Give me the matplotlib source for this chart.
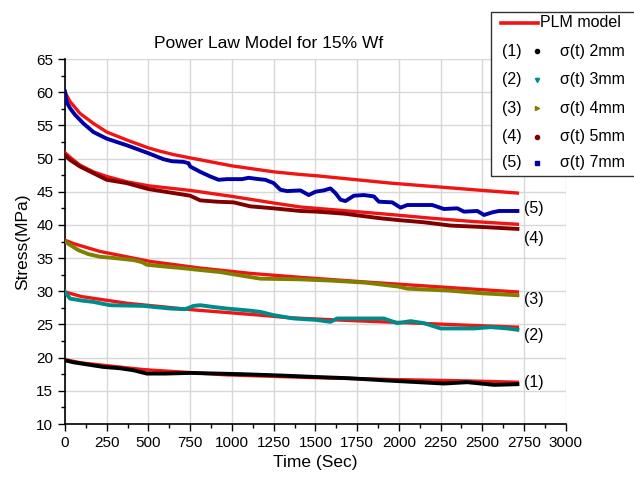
import matplotlib.pyplot as plt
from matplotlib.lines import Line2D
from matplotlib.patches import Rectangle
from matplotlib.ticker import MultipleLocator

plt.rcParams['font.family'] = ['Liberation Sans', 'DejaVu Sans']

# PLM model curves (time, stress)
plm_t = {
    5: [0, 30, 90, 170, 250, 370, 500, 570, 650, 750, 1000, 1250, 1410, 1510, 1750, 1950, 2250, 2500, 2710],
    4: [0, 30, 90, 170, 250, 370, 500, 570, 750, 1000, 1250, 1410, 1890, 2200, 2450, 2710],
    3: [0, 50, 210, 510, 810, 1110, 1410, 1800, 2100, 2400, 2710],
    2: [0, 100, 370, 770, 1170, 1350, 1700, 2100, 2400, 2710],
    1: [0, 100, 470, 970, 1470, 1970, 2400, 2710],
}
plm_s = {
    5: [60.0, 58.6, 56.8, 55.3, 54.0, 52.8, 51.6, 51.1, 50.6, 50.1, 48.9, 48.0, 47.6, 47.4, 46.8, 46.3,
        45.7, 45.2, 44.8],
    4: [50.9, 50.2, 49.0, 48.0, 47.3, 46.5, 45.9, 45.7, 45.2, 44.3, 43.3, 42.7, 41.7, 41.0, 40.5, 40.1],
    3: [37.7, 37.2, 36.0, 34.5, 33.5, 32.7, 32.1, 31.4, 30.9, 30.4, 29.9],
    2: [29.9, 29.2, 28.2, 27.2, 26.4, 26.0, 25.6, 25.2, 24.9, 24.6],
    1: [19.7, 19.2, 18.2, 17.4, 17.0, 16.7, 16.5, 16.3],
}

# measured stress relaxation
t7 = [0, 10, 30, 60, 110, 170, 250, 370, 500, 590, 640, 710, 740, 750, 810, 870, 920, 970, 1060, 1100,
      1160, 1200, 1250, 1290, 1330, 1410, 1460, 1500, 1550, 1590, 1620, 1650, 1680, 1730, 1790, 1850,
      1880, 1960, 2010, 2050, 2200, 2270, 2350, 2390, 2470, 2510, 2560, 2600, 2710]
s7 = [60.1, 58.5, 57.6, 56.6, 55.3, 54.0, 53.0, 52.0, 50.8, 49.9, 49.6, 49.5, 49.3, 48.8, 48.0, 47.3,
      46.8, 46.9, 46.9, 47.1, 46.9, 46.8, 46.3, 45.3, 45.1, 45.2, 44.5, 45.0, 45.2, 45.5, 44.8, 43.8,
      43.6, 44.4, 44.5, 44.3, 43.5, 43.4, 42.6, 43.0, 43.0, 42.4, 42.5, 42.0, 42.1, 41.5, 41.9, 42.1, 42.1]
t5 = [0, 30, 90, 170, 250, 370, 500, 650, 750, 810, 910, 1010, 1110, 1250, 1410, 1510, 1670, 1890,
      2010, 2150, 2310, 2490, 2710]
s5 = [50.5, 49.8, 48.8, 47.8, 46.8, 46.3, 45.4, 44.8, 44.4, 43.7, 43.5, 43.4, 42.8, 42.5, 42.1, 42.0,
      41.7, 41.0, 40.7, 40.4, 39.9, 39.7, 39.4]
t4 = [0, 30, 80, 140, 210, 300, 410, 460, 490, 610, 700, 810, 930, 1000, 1170, 1410, 1600, 1800, 2000,
      2050, 2300, 2500, 2710]
s4 = [37.5, 37.0, 36.2, 35.6, 35.2, 35.0, 34.7, 34.4, 34.0, 33.7, 33.5, 33.2, 32.9, 32.6, 31.9, 31.8,
      31.6, 31.3, 30.7, 30.4, 30.1, 29.7, 29.4]
t3 = [0, 30, 100, 170, 270, 470, 630, 720, 770, 810, 900, 970, 1100, 1170, 1250, 1370, 1500, 1590,
      1630, 1910, 1990, 2070, 2150, 2250, 2450, 2550, 2650, 2710]
s3 = [29.9, 28.9, 28.6, 28.4, 27.9, 27.8, 27.4, 27.3, 27.8, 27.9, 27.6, 27.4, 27.1, 26.9, 26.4, 25.9,
      25.7, 25.4, 25.9, 25.9, 25.2, 25.5, 25.2, 24.4, 24.4, 24.6, 24.4, 24.2]
t2 = [0, 50, 230, 330, 410, 490, 600, 750, 1070, 1300, 1490, 1700, 1970, 2270, 2410, 2570, 2710]
s2 = [19.6, 19.3, 18.6, 18.4, 18.1, 17.6, 17.6, 17.7, 17.5, 17.3, 17.1, 16.9, 16.5, 16.1, 16.3, 15.9, 16.0]

series = [
    ('(1)', 'σ(t) 2mm', t2, s2, 'black', 'o'),
    ('(2)', 'σ(t) 3mm', t3, s3, '#008b8b', 'v'),
    ('(3)', 'σ(t) 4mm', t4, s4, '#808000', '>'),
    ('(4)', 'σ(t) 5mm', t5, s5, '#800000', 'o'),
    ('(5)', 'σ(t) 7mm', t7, s7, '#0000a8', 's'),
]

# curve labels at the right end
label_x = 2750
label_y = [16.2, 23.4, 28.8, 38.0, 42.4]

fig = plt.figure(figsize=(6.34, 4.79), dpi=100)
ax = fig.add_axes([0.1025, 0.1148, 0.79, 0.762])

red = '#f01414'
for k in plm_t:
    ax.plot(plm_t[k], plm_s[k], color=red, lw=2.4, zorder=3)
for tag, name, t, s, c, m in series:
    ax.plot(t, s, color=c, lw=2.8, zorder=4)

for (tag, *_), y in zip(series, label_y):
    ax.text(label_x, y, tag, fontsize=11.5, va='center', ha='left')

ax.set_xlim(0, 3000)
ax.set_ylim(10, 65)
ax.xaxis.set_major_locator(MultipleLocator(250))
ax.xaxis.set_minor_locator(MultipleLocator(125))
ax.yaxis.set_major_locator(MultipleLocator(5))
ax.yaxis.set_minor_locator(MultipleLocator(2.5))
ax.tick_params(which='major', direction='out', length=5, width=1, labelsize=11)
ax.tick_params(which='minor', direction='out', length=3, width=1)
ax.grid(True, which='major', color='#d8d8d8', lw=1)
ax.set_axisbelow(True)
for sp in ('top', 'right'):
    ax.spines[sp].set_visible(False)
ax.spines['left'].set_linewidth(1.2)
ax.spines['bottom'].set_linewidth(1.2)
ax.set_xlabel('Time (Sec)', fontsize=12.5)
ax.set_ylabel('Stress(MPa)', fontsize=12.5)
fig.text(0.423, 0.91, 'Power Law Model for 15% Wf', fontsize=12.5, ha='center', va='center')

# legend box drawn by hand (it runs off the right edge)
fig.patches.append(Rectangle((0.775, 0.633), 0.3, 0.342, transform=fig.transFigure,
                             facecolor='white', edgecolor='#333333', lw=1, zorder=10))
fig.lines.append(Line2D([0.79, 0.848], [0.953, 0.953], transform=fig.transFigure,
                        color=red, lw=2.6, zorder=11))
fig.text(0.852, 0.953, 'PLM model', fontsize=11.5, va='center', zorder=11)
row_y = [0.893, 0.833, 0.774, 0.714, 0.66]
for (tag, name, t, s, c, m), y in zip(series, row_y):
    fig.text(0.792, y, tag, fontsize=11.5, va='center', zorder=11)
    fig.lines.append(Line2D([0.847], [y], transform=fig.transFigure, color=c, marker=m,
                            ms=3, ls='none', zorder=11))
    fig.text(0.884, y, name, fontsize=11.5, va='center', zorder=11)

fig.savefig('out.png', dpi=100)
